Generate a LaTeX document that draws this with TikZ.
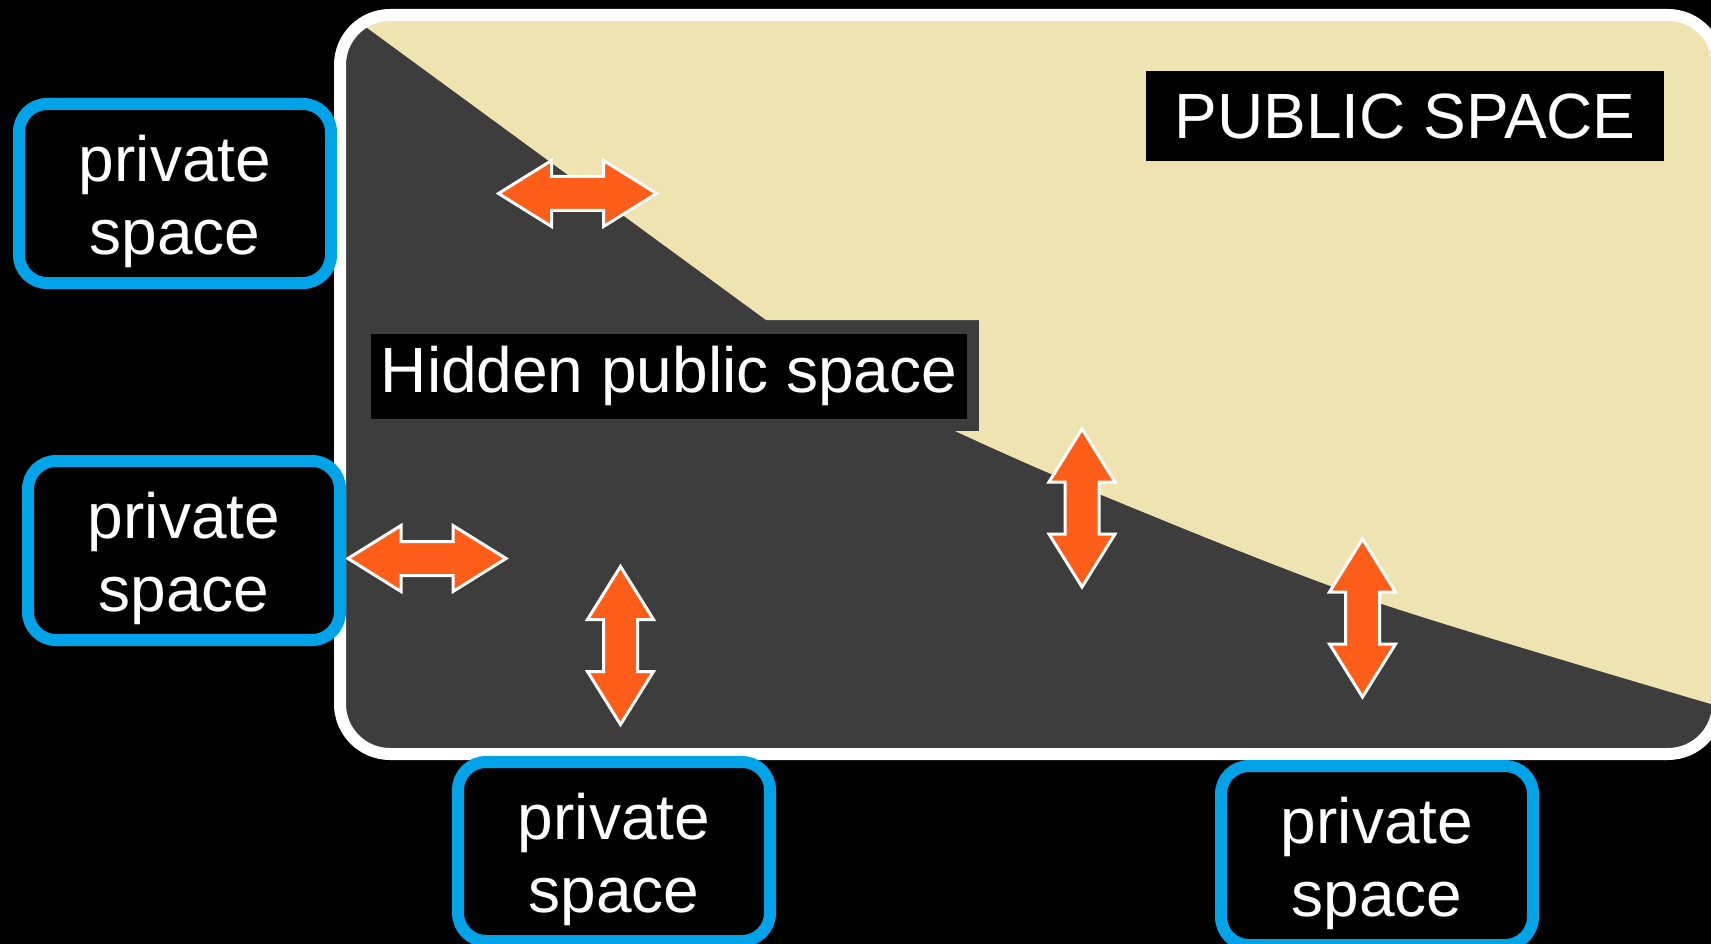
\documentclass[tikz,border=0pt]{standalone}
\usepackage{fontspec}
\setmainfont{Liberation Sans}
\usetikzlibrary{positioning}
\definecolor{spacetan}{HTML}{EFE3B1}
\definecolor{hiddengray}{HTML}{3D3D3D}
\definecolor{privblue}{HTML}{00A2E8}
\definecolor{passorange}{HTML}{FF5E1A}

\begin{document}
\begin{tikzpicture}[
        x=1pt, y=-1pt,
        every node/.style={font=\fontsize{64}{73}\selectfont, text=white},
        privbox/.style={rectangle, draw=privblue, fill=black, line width=12pt, rounded corners=28pt, minimum width=312pt, minimum height=179pt, align=center, inner sep=0pt},
        spacetag/.style={rectangle, fill=black, inner sep=0pt},
        passage/.pic={\draw[white, fill=passorange, line width=3pt] (-79,0) -- (-26,-33) -- (-26,-17) -- (26,-17) -- (26,-33) -- (79,0) -- (26,33) -- (26,17) -- (-26,17) -- (-26,33) -- cycle;}
    ]
    \useasboundingbox[fill=black] (0,0) rectangle (1711,944);

    % the shared area, hidden part and open part
    \fill[hiddengray, rounded corners=50pt] (340,15) rectangle (1718,754);
    \begin{scope}
        \clip[rounded corners=50pt] (340,15) rectangle (1718,754);
        \fill[spacetan] (329,0) -- (766,320) -- (979,320) -- (979,425) -- (955,431)
            -- plot[smooth] coordinates {(955,431) (1082,487) (1364,598) (1711,704)}
            -- (1730,704) -- (1730,0) -- cycle;
    \end{scope}
    \draw[white, line width=12pt, rounded corners=50pt] (340,15) rectangle (1718,754);

    % passages
    \pic at (577.5,193.5) {passage};
    \pic at (427,558.5) {passage};
    \pic[rotate=90] at (620.5,645.5) {passage};
    \pic[rotate=90] at (1082,508) {passage};
    \pic[rotate=90] at (1362.5,618) {passage};

    \node[spacetag, minimum width=518pt, minimum height=90pt] (public) at (1405,116) {PUBLIC SPACE};
    \node[spacetag, draw=hiddengray, line width=12pt, minimum width=608pt, minimum height=97pt] (hidden) at (669,376) {Hidden public space};

    \node[privbox] (priv1) at (175,193.5) {\rule{0pt}{63pt}private\\space};
    \node[privbox] (priv2) at (184,550.5) {\rule{0pt}{63pt}private\\space};
    \node[privbox] (priv3) at (614,851.5) {\rule{0pt}{63pt}private\\space};
    \node[privbox] (priv4) at (1377,855.5) {\rule{0pt}{63pt}private\\space};
\end{tikzpicture}
\end{document}
